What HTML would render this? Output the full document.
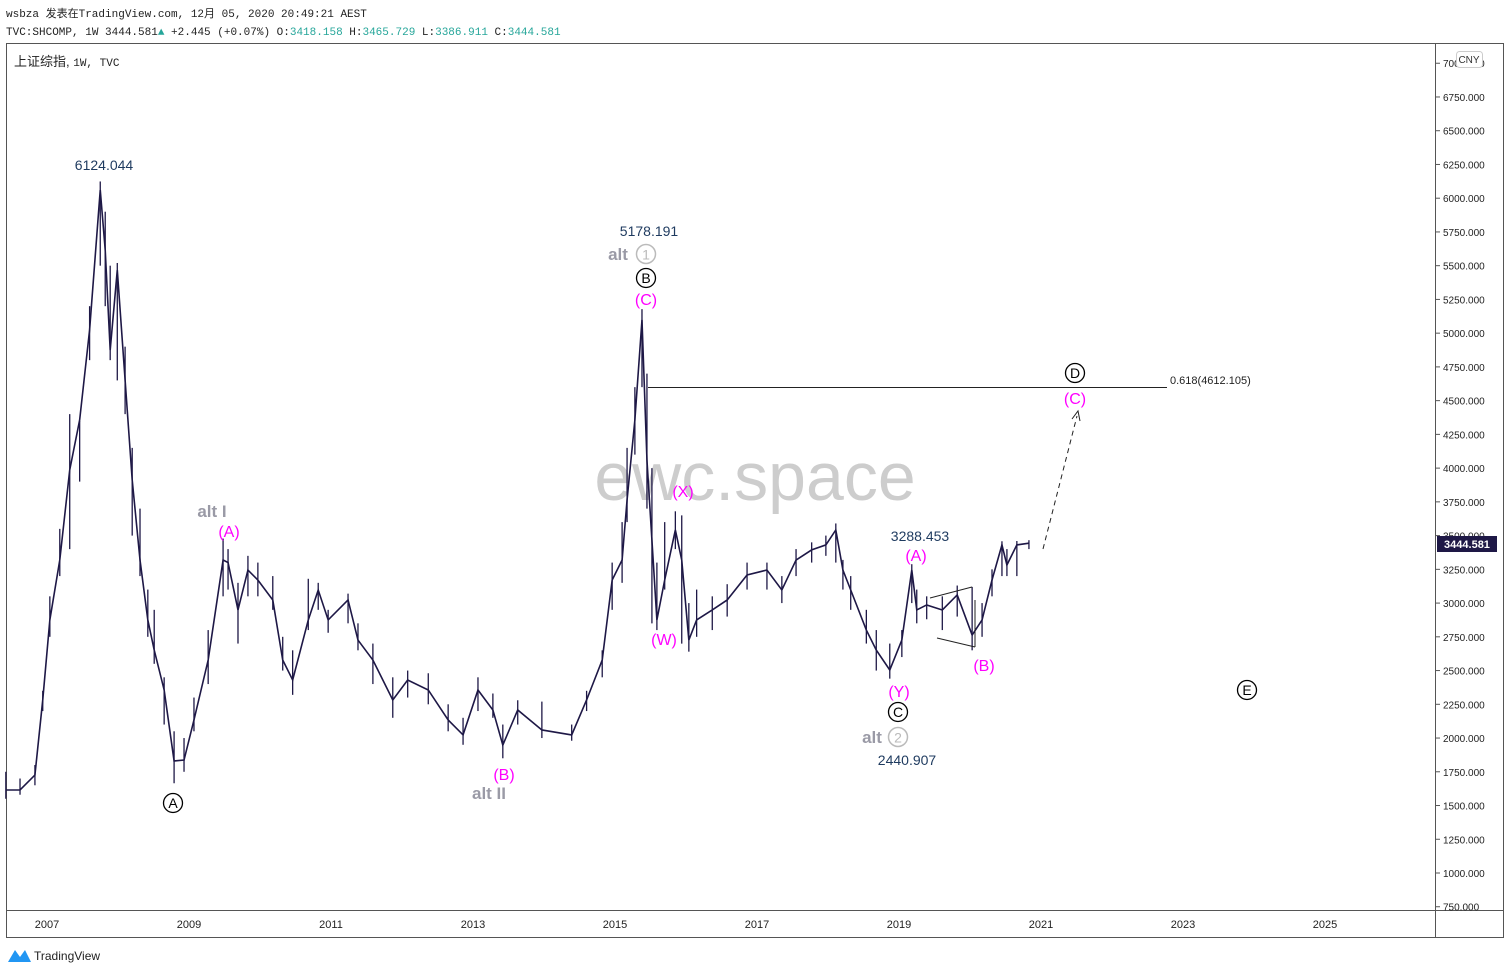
<!DOCTYPE html>
<html><head><meta charset="utf-8">
<style>
body{margin:0;background:#fff;width:1510px;height:974px;overflow:hidden;font-family:"Liberation Sans","Noto Sans CJK SC",sans-serif}
svg{position:absolute;left:0;top:0}
.mono{font-family:"Liberation Mono","Noto Sans CJK SC",monospace;font-size:11px}
</style></head><body>
<svg width="1510" height="974" xmlns="http://www.w3.org/2000/svg">
<text class="mono" x="6" y="17" fill="#222">wsbza 发表在TradingView.com, 12月 05, 2020 20:49:21 AEST</text>
<text class="mono" x="6" y="35" fill="#222">TVC:SHCOMP, 1W 3444.581<tspan fill="#26a69a">▲</tspan> +2.445 (+0.07%) O:<tspan fill="#26a69a">3418.158</tspan> H:<tspan fill="#26a69a">3465.729</tspan> L:<tspan fill="#26a69a">3386.911</tspan> C:<tspan fill="#26a69a">3444.581</tspan></text>
<rect x="6.5" y="43.5" width="1497" height="894" fill="none" stroke="#555"/>
<line x1="1435.5" y1="43" x2="1435.5" y2="937" stroke="#555"/>
<line x1="6" y1="910.5" x2="1503" y2="910.5" stroke="#555"/>
<text x="14" y="66" font-size="13" fill="#222">上证综指, <tspan class="mono" font-size="12">1W, TVC</tspan></text>
<g id="yaxis"></g>
<g id="xaxis"></g>
<text x="755" y="500" font-size="68" fill="#cdcdcd" text-anchor="middle">ewc.space</text>
<g id="series"></g>
<g font-size="14" text-anchor="middle">
<text x="104" y="170" fill="#1e3a5f">6124.044</text>
<text x="649" y="236" fill="#1e3a5f">5178.191</text>
<text x="618" y="260" fill="#9a9aa6" font-size="17" font-weight="bold">alt</text>
<circle cx="646" cy="254" r="9.5" fill="none" stroke="#bbb" stroke-width="1.5"/><text x="646" y="259.5" fill="#bbb" font-size="14">1</text>
<circle cx="646" cy="278" r="9.5" fill="none" stroke="#000" stroke-width="1.3"/><text x="646" y="283" fill="#000">B</text>
<text x="646" y="305" fill="#f0f" font-size="16">(C)</text>
<line x1="648" y1="387.5" x2="1167" y2="387.5" stroke="#222"/>
<text x="1170" y="384" fill="#222" font-size="11" text-anchor="start">0.618(4612.105)</text>
<circle cx="1075" cy="373" r="9.5" fill="none" stroke="#000" stroke-width="1.3"/><text x="1075" y="378" fill="#000">D</text>
<text x="1075" y="404" fill="#f0f" font-size="16">(C)</text>
<line x1="1043" y1="549" x2="1077" y2="416" stroke="#222" stroke-dasharray="5,4"/>
<path d="M1072 419 L1078 411 L1080 421" fill="none" stroke="#222"/>
<text x="683" y="497" fill="#f0f" font-size="16">(X)</text>
<text x="664" y="645" fill="#f0f" font-size="16">(W)</text>
<text x="920" y="541" fill="#1e3a5f">3288.453</text>
<text x="916" y="561" fill="#f0f" font-size="16">(A)</text>
<text x="984" y="671" fill="#f0f" font-size="16">(B)</text>
<text x="899" y="697" fill="#f0f" font-size="16">(Y)</text>
<circle cx="898" cy="712" r="9.5" fill="none" stroke="#000" stroke-width="1.3"/><text x="898" y="717" fill="#000">C</text>
<text x="872" y="743" fill="#9a9aa6" font-size="17" font-weight="bold">alt</text>
<circle cx="898" cy="737" r="9.5" fill="none" stroke="#bbb" stroke-width="1.5"/><text x="898" y="742.5" fill="#bbb">2</text>
<text x="907" y="765" fill="#1e3a5f">2440.907</text>
<circle cx="1247" cy="690" r="9.5" fill="none" stroke="#000" stroke-width="1.3"/><text x="1247" y="695" fill="#000">E</text>
<text x="212" y="517" fill="#9a9aa6" font-size="17" font-weight="bold">alt I</text>
<text x="229" y="537" fill="#f0f" font-size="16">(A)</text>
<circle cx="173" cy="803" r="9.5" fill="none" stroke="#000" stroke-width="1.3"/><text x="173" y="808" fill="#000">A</text>
<text x="504" y="780" fill="#f0f" font-size="16">(B)</text>
<text x="489" y="799" fill="#9a9aa6" font-size="17" font-weight="bold">alt II</text>
<path d="M930 598 L972 587 M937 638 L975 647 M975 647 L975 600" stroke="#222" fill="none"/>
</g>
<rect x="1437" y="536" width="60" height="16" fill="#1e1846"/>
<text x="1467" y="548" fill="#fff" font-size="11" font-weight="bold" text-anchor="middle">3444.581</text>
<rect x="1456.5" y="51.5" width="26" height="16" rx="3" fill="#fff" stroke="#ccc"/>
<text x="1469" y="63" font-size="10" text-anchor="middle" fill="#333">CNY</text>
<g>
<path d="M8 962 L15 950 L20 957 L25 950 L31 962 Z" fill="#2196f3"/>
<text x="34" y="960" font-size="12" fill="#222">TradingView</text>
</g>
</svg>
<script>
const priceTicks=[750,1000,1250,1500,1750,2000,2250,2500,2750,3000,3250,3500,3750,4000,4250,4500,4750,5000,5250,5500,5750,6000,6250,6500,6750,7000];
const yearTicks=[2007,2009,2011,2013,2015,2017,2019,2021,2023,2025];
const dates=[2006.42,2006.62,2006.83,2006.94,2007.04,2007.18,2007.32,2007.46,2007.60,2007.75,2007.82,2007.89,2007.99,2008.10,2008.20,2008.31,2008.42,2008.51,2008.65,2008.79,2008.93,2009.07,2009.27,2009.48,2009.55,2009.69,2009.83,2009.97,2010.18,2010.32,2010.46,2010.68,2010.82,2010.96,2011.24,2011.38,2011.59,2011.87,2012.08,2012.37,2012.65,2012.86,2013.07,2013.28,2013.42,2013.63,2013.97,2014.39,2014.60,2014.82,2014.96,2015.10,2015.17,2015.28,2015.38,2015.45,2015.52,2015.59,2015.70,2015.85,2015.94,2016.04,2016.15,2016.37,2016.58,2016.86,2017.14,2017.35,2017.55,2017.77,2017.97,2018.11,2018.21,2018.32,2018.54,2018.68,2018.87,2019.04,2019.18,2019.25,2019.39,2019.61,2019.82,2020.03,2020.17,2020.31,2020.45,2020.52,2020.66,2020.83];
const closes=[1615,1615,1726,2282,2875,3319,3986,4357,5024,6061,5616,4875,5468,4653,3912,3319,2875,2652,2356,1830,1837,2134,2578,3319,3300,2949,3245,3171,3023,2578,2430,2875,3097,2875,3023,2726,2578,2282,2430,2356,2134,2023,2356,2208,1948,2208,2060,2023,2282,2578,3171,3319,3764,4357,5098,4060,3467,2875,3171,3542,3319,2726,2875,2949,3023,3208,3245,3097,3319,3394,3431,3542,3245,3097,2800,2652,2504,2726,3245,2949,2986,2949,3060,2763,2875,3171,3431,3282,3431,3444];
const highs=[1750,1700,1800,2350,3050,3550,4400,4350,5200,6124,5900,5500,5520,4900,4150,3700,3100,2950,2450,2050,2000,2300,2800,3478,3400,3150,3350,3300,3200,2750,2650,3180,3150,2950,3070,2850,2700,2450,2500,2480,2250,2150,2450,2330,2100,2280,2270,2100,2350,2650,3300,3600,4150,4600,5178,4700,4000,3300,3600,3680,3650,3000,3100,3050,3140,3300,3300,3200,3400,3450,3500,3590,3320,3200,2950,2800,2700,2800,3288,3100,3050,3050,3130,3120,3000,3250,3458,3400,3460,3466];
const lows=[1550,1580,1650,2200,2750,3200,3400,3900,4800,5500,5200,4800,4650,4400,3500,3200,2750,2550,2100,1665,1750,2050,2400,3050,3100,2700,3050,3050,2950,2500,2320,2800,2950,2780,2850,2650,2400,2150,2300,2250,2050,1950,2200,2150,1850,2100,2000,1980,2200,2450,2950,3150,3600,4100,4600,3700,2850,2800,3100,3400,2700,2640,2750,2800,2900,3100,3100,3000,3200,3300,3350,3300,3100,2950,2700,2500,2440,2600,3000,2850,2880,2800,2900,2650,2750,3050,3200,3200,3200,3400];
const y=p=>873-(p-1000)*0.13496;
const x=t=>47+(t-2007)*71;
const NS='http://www.w3.org/2000/svg';
const ya=document.getElementById('yaxis');
priceTicks.forEach(p=>{
  const yy=y(p); if(yy<50||yy>912) return;
  const l=document.createElementNS(NS,'line');
  l.setAttribute('x1',1435);l.setAttribute('x2',1440);l.setAttribute('y1',yy);l.setAttribute('y2',yy);l.setAttribute('stroke','#555');
  
  
  ya.appendChild(l);
  const t=document.createElementNS(NS,'text');
  t.setAttribute('x',1443);t.setAttribute('y',yy+4);t.setAttribute('font-size','10');t.setAttribute('fill','#222');
  t.textContent=p.toFixed(3);
  
  
  ya.appendChild(t);
});
const xa=document.getElementById('xaxis');
yearTicks.forEach(yr=>{
  const t=document.createElementNS(NS,'text');
  t.setAttribute('x',x(yr));t.setAttribute('y',928);t.setAttribute('font-size','11');t.setAttribute('fill','#222');t.setAttribute('text-anchor','middle');
  t.textContent=yr;
  
  
  xa.appendChild(t);
});
const s=document.getElementById('series');
dates.forEach((d,i)=>{
  const b=document.createElementNS(NS,'line');
  b.setAttribute('x1',x(d));b.setAttribute('x2',x(d));b.setAttribute('y1',y(highs[i]));b.setAttribute('y2',y(lows[i]));
  b.setAttribute('stroke','#1e1846');b.setAttribute('stroke-width','1.3');
  
  
  s.appendChild(b);
});
const pl=document.createElementNS(NS,'polyline');
pl.setAttribute('points',dates.map((d,i)=>x(d)+','+y(closes[i])).join(' '));
pl.setAttribute('fill','none');pl.setAttribute('stroke','#1e1846');pl.setAttribute('stroke-width','1.6');pl.setAttribute('stroke-linejoin','miter');


s.appendChild(pl);
</script>
</body></html>
